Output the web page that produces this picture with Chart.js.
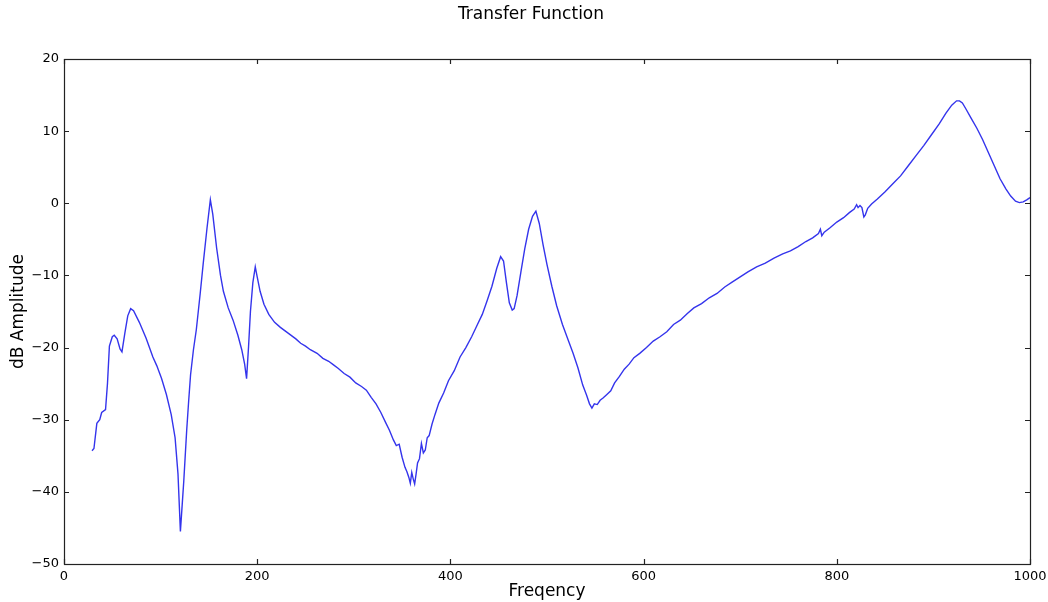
<!DOCTYPE html>
<html lang="en">
<head>
    <meta charset="UTF-8">
    <title>Transfer Function</title>
    <style>
        html, body { margin: 0; padding: 0; background: #ffffff; }
        #wrap { width: 1048px; height: 602px; }
    </style>
    <script src="https://cdn.jsdelivr.net/npm/chart.js"></script>
</head>
<body>
    <div id="wrap"><canvas id="tf-chart"></canvas></div>
    <script>
        // frequency samples
        const freq = [29, 31, 34, 37, 39, 43, 45, 47, 50, 52, 55, 58, 60, 63, 66, 69, 72, 78, 85, 92,
            96, 101, 106, 111, 115, 118, 120.5, 122, 124, 127, 129, 131, 134, 137, 141, 144, 148, 151.5, 154, 158,
            162, 165, 170, 175, 180, 184, 187, 189, 191, 193, 195.5, 198, 200, 203, 207, 212, 218, 224, 232, 240,
            245, 250, 255, 262, 268, 274, 279, 284, 290, 296, 302, 308, 313, 318, 323, 328, 333, 337, 341, 344,
            347, 350, 353, 355, 357, 358.5, 360, 361.5, 363, 364.5, 366, 368, 370, 372, 374, 376, 378, 381, 384, 388,
            393, 398, 404, 410, 416, 422, 428, 433, 438, 443, 448, 452, 455, 458, 461, 464, 466, 469, 473, 477,
            481, 485, 488.5, 492, 496, 500, 505, 510, 516, 522, 527, 532, 537, 541, 544, 546.5, 549, 552, 555, 558,
            562, 566, 570, 575, 580, 585, 590, 596, 603, 610, 617, 624, 631, 638, 645, 652, 660, 668, 676, 684,
            692, 700, 708, 717, 726, 735, 744, 752, 760, 768, 775, 781, 783, 784.5, 787, 793, 800, 807, 813, 818,
            820.5, 822, 824, 826, 828, 829.5, 832, 836, 842, 850, 858, 866, 874, 882, 890, 898, 906, 913, 919, 924,
            927, 930, 934, 939, 945, 951, 957, 963, 969, 975, 980, 985, 989, 993, 997, 1000];

        // dB amplitude at each frequency
        const amp = [-34.3, -34.0, -30.5, -30.0, -29.0, -28.6, -25.0, -19.8, -18.5, -18.3, -18.8, -20.2, -20.6, -18.0, -15.6, -14.6, -14.9, -16.5, -18.7, -21.3,
            -22.5, -24.3, -26.5, -29.3, -32.5, -37.5, -45.5, -42.5, -38.5, -31.5, -27.5, -23.8, -20.3, -17.5, -12.5, -8.5, -3.5, 0.5, -1.5, -6.2,
            -10.0, -12.2, -14.5, -16.2, -18.3, -20.3, -22.3, -24.3, -20.0, -15.0, -11.0, -8.8, -10.2, -12.2, -14.0, -15.4, -16.5, -17.2, -18.0, -18.8,
            -19.4, -19.8, -20.3, -20.8, -21.5, -21.9, -22.4, -22.9, -23.6, -24.1, -24.9, -25.4, -25.9, -26.9, -27.8, -29.0, -30.4, -31.5, -32.8, -33.6,
            -33.4, -35.2, -36.6, -37.2, -38.0, -38.8, -37.3, -38.2, -38.9, -37.5, -36.0, -35.4, -33.3, -34.6, -34.2, -32.5, -32.2, -30.6, -29.3, -27.7,
            -26.3, -24.6, -23.2, -21.3, -20.0, -18.5, -16.8, -15.4, -13.5, -11.5, -9.0, -7.4, -8.0, -11.0, -13.8, -14.8, -14.6, -12.8, -9.5, -6.3,
            -3.6, -1.8, -1.1, -2.8, -5.8, -8.5, -11.5, -14.2, -16.8, -19.0, -20.8, -22.8, -25.2, -26.6, -27.8, -28.4, -27.8, -27.9, -27.3, -27.0,
            -26.5, -26.0, -24.9, -24.0, -23.0, -22.3, -21.4, -20.8, -20.0, -19.1, -18.5, -17.8, -16.8, -16.2, -15.3, -14.5, -13.9, -13.1, -12.5, -11.6,
            -10.9, -10.2, -9.5, -8.8, -8.3, -7.6, -7.0, -6.6, -6.0, -5.3, -4.8, -4.2, -3.6, -4.5, -4.0, -3.4, -2.6, -2.0, -1.3, -0.8,
            -0.2, -0.6, -0.3, -0.6, -1.9, -1.6, -0.7, -0.1, 0.6, 1.6, 2.7, 3.8, 5.2, 6.6, 8.0, 9.5, 11.0, 12.5, 13.6, 14.2,
            14.2, 13.9, 13.0, 11.8, 10.4, 8.8, 7.0, 5.2, 3.4, 2.0, 1.0, 0.3, 0.1, 0.2, 0.5, 0.8];

        const xTicks = [0, 200, 400, 600, 800, 1000];
        const yTicks = [-50, -40, -30, -20, -10, 0, 10, 20];
        const titleText = 'Transfer Function';

        const points = freq.map((f, i) => ({ x: f, y: amp[i] }));

        // figure title, centred like matplotlib's suptitle (a bit left of the axes centre)
        const figTitle = {
            id: 'figTitle',
            afterDraw(chart) {
                const ctx = chart.ctx;
                ctx.save();
                ctx.fillStyle = '#000000';
                ctx.font = '17px "DejaVu Sans"';
                ctx.textAlign = 'center';
                ctx.textBaseline = 'middle';
                ctx.fillText(titleText, 531, 15);
                ctx.restore();
            }
        };

        // matplotlib-style frame with ticks pointing inward on all four sides
        const frameTicks = {
            id: 'frameTicks',
            afterDraw(chart) {
                const ctx = chart.ctx;
                const a = chart.chartArea;
                const xs = chart.scales.x, ys = chart.scales.y;
                const len = 5;
                ctx.save();
                ctx.strokeStyle = '#222222';
                ctx.lineWidth = 1.2;
                ctx.beginPath();
                xTicks.forEach(v => {
                    const px = Math.round(xs.getPixelForValue(v)) + 0.5;
                    ctx.moveTo(px, a.bottom); ctx.lineTo(px, a.bottom - len);
                    ctx.moveTo(px, a.top); ctx.lineTo(px, a.top + len);
                });
                yTicks.forEach(v => {
                    const py = Math.round(ys.getPixelForValue(v)) + 0.5;
                    ctx.moveTo(a.left, py); ctx.lineTo(a.left + len, py);
                    ctx.moveTo(a.right, py); ctx.lineTo(a.right - len, py);
                });
                ctx.stroke();
                ctx.strokeRect(Math.round(a.left) + 0.5, Math.round(a.top) + 0.5,
                    Math.round(a.right - a.left), Math.round(a.bottom - a.top));
                ctx.restore();
            }
        };

        new Chart(document.getElementById('tf-chart'), {
            type: 'line',
            data: {
                datasets: [{
                    label: 'Transfer Function',
                    data: points,
                    borderColor: '#3434ec',
                    borderWidth: 1.4,
                    pointRadius: 0,
                    tension: 0,
                    fill: false
                }]
            },
            options: {
                responsive: true,
                maintainAspectRatio: false,
                animation: false,
                layout: { padding: { left: 0, right: 18, top: 59, bottom: 0 } },
                plugins: {
                    legend: { display: false },
                    tooltip: { enabled: false },
                    title: { display: false }
                },
                scales: {
                    x: {
                        type: 'linear',
                        min: 0,
                        max: 1000,
                        afterBuildTicks: s => { s.ticks = xTicks.map(v => ({ value: v })); },
                        afterFit: s => { s.height = 38; s.paddingRight = 0; s.paddingLeft = 0; },
                        grid: { display: false, drawTicks: false },
                        border: { display: false },
                        ticks: {
                            color: '#000000',
                            padding: 5,
                            maxRotation: 0,
                            font: { family: 'DejaVu Sans', size: 13 },
                            callback: v => String(v)
                        },
                        title: {
                            display: true,
                            text: 'Freqency',
                            color: '#000000',
                            font: { family: 'DejaVu Sans', size: 17 },
                            padding: { top: 0, bottom: 0 }
                        }
                    },
                    y: {
                        min: -50,
                        max: 20,
                        afterBuildTicks: s => { s.ticks = yTicks.map(v => ({ value: v })); },
                        afterFit: s => { s.width = 64; },
                        grid: { display: false, drawTicks: false },
                        border: { display: false },
                        ticks: {
                            color: '#000000',
                            padding: 5,
                            font: { family: 'DejaVu Sans', size: 13 },
                            callback: v => String(v).replace('-', '\u2212')
                        },
                        title: {
                            display: true,
                            text: 'dB Amplitude',
                            color: '#000000',
                            font: { family: 'DejaVu Sans', size: 17 },
                            padding: { top: 8, bottom: 0 }
                        }
                    }
                }
            },
            plugins: [frameTicks, figTitle]
        });
    </script>
</body>
</html>
